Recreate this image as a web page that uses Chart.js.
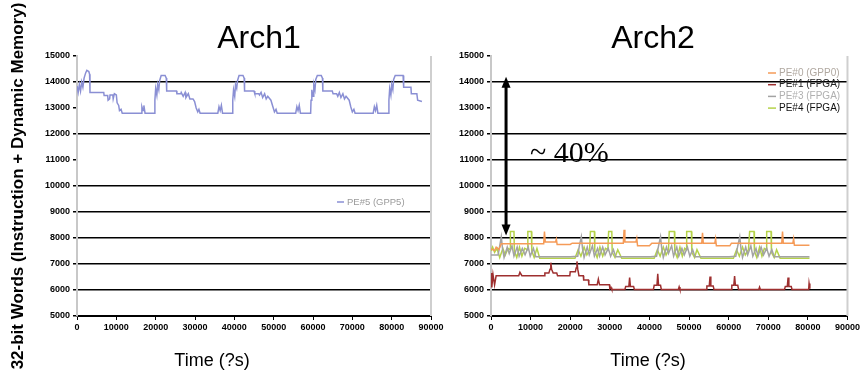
<!DOCTYPE html>
<html><head><meta charset="utf-8">
<script src="https://cdn.jsdelivr.net/npm/chart.js@4.4.0/dist/chart.umd.min.js"></script>
<style>
html,body{margin:0;padding:0;background:#fff;width:862px;height:376px;overflow:hidden;position:relative}
canvas{position:absolute;top:0}
#c1{left:0}
#c2{left:440px}
</style></head><body>
<canvas id="c1" width="460" height="376"></canvas>
<canvas id="c2" width="422" height="376"></canvas>
<script>
// ---------- tick labels ----------
const xTickValues = [0,10000,20000,30000,40000,50000,60000,70000,80000,90000];
const yTickValues = [5000,6000,7000,8000,9000,10000,11000,12000,13000,14000,15000];
const chartTitles = ['Arch1','Arch2'];
const xAxisTitle = 'Time (?s)';
const yAxisTitle = '32-bit Words (Instruction + Dynamic Memory)';
const annotationText = '~ 40%';

// ---------- Arch1 : PE#5 ----------
const arch1Label = 'PE#5 (GPP5)';
const arch1Time = [0,300,600,900,1200,1500,1800,2200,2500,3000,3200,3300,6800,6900,7800,7900,8300,8400,9100,9200,9500,10000,10200,10600,10800,11200,11500,16300,16500,16800,17000,17300,19700,
19800,20000,20300,20500,20800,21000,21400,22400,22700,22800,25300,25400,26400,26500,27000,27500,27700,28300,28700,29500,29900,30300,30700,31000,31300,35800,36100,36400,36700,37000,39500,
39600,39800,40100,40300,40600,40800,41200,42200,42500,42600,45000,45200,46200,46400,46800,47200,47700,48100,48500,49300,49800,50200,50600,50900,55600,55900,56200,56500,56800,59400,
59500,59700,60000,60200,60500,60700,61100,62100,62400,62500,64900,65100,66000,66300,66700,67100,67600,68000,68400,69200,69600,70000,70400,70700,75300,75600,75900,76200,76500,79200,
79300,79500,79800,80000,80300,80500,80900,82900,83000,83100,84900,85000,86400,86600,87700];
const arch1Words = [13850,13600,13900,13650,14000,13800,14150,14350,14450,14400,14300,13600,13600,13480,13480,13300,13350,13500,13500,13350,13550,13500,13200,13100,12900,12950,12800,12800,13050,12900,13100,12800,12800,
13300,13750,13500,13900,13700,14050,14250,14250,14150,13650,13650,13550,13550,13600,13450,13600,13400,13550,13350,13350,13250,13000,12850,12950,12800,12800,13050,12900,13100,12800,12800,
13300,13700,13450,13900,13750,14050,14250,14250,14150,13650,13650,13550,13550,13500,13600,13400,13550,13350,13450,13300,13050,12850,12950,12800,12800,13050,12900,13100,12800,12800,
13300,13700,13450,13900,13700,14100,14250,14250,14150,13650,13650,13550,13550,13450,13600,13400,13550,13350,13450,13300,13050,12850,12950,12800,12800,13050,12900,13100,12800,12800,
13300,13750,13500,13900,13700,14100,14250,14250,14100,13800,13800,13550,13550,13300,13250];

// ---------- Arch2 ----------
const arch2Labels = ['PE#0 (GPP0)','PE#1 (FPGA)','PE#3 (FPGA)','PE#4 (FPGA)'];
const pe0Time = [0,900,1300,2000,2600,13300,13500,13700,16300,16500,16700,20000,20500,33400,33600,33800,36600,36800,37000,40000,40600,53200,53400,53600,56500,56700,56900,60300,60700,73400,73600,73800,76200,76400,76600,80400];
const pe0Words = [7580,7520,7650,7560,7780,7780,8250,7850,7850,7960,7750,7750,7800,7800,8320,7850,7850,7980,7700,7700,7800,7800,8200,7800,7800,7970,7700,7700,7800,7800,8250,7800,7800,7970,7720,7720];

const pe1Time = [0,200,500,900,1300,7000,7300,7800,13400,13600,14600,14900,15100,15300,15700,16600,16800,19900,20000,21300,21500,21700,21900,22200,23300,23400,24600,24700,26800,27100,27400,29900,30000,30300,30500,33800,34000,34800,35000,35200,36000,36200,41000,41200,41900,42100,42300,42800,43000,47300,47500,47700,54300,54500,55100,55300,55500,56100,56300,60600,60800,61300,61500,61700,62300,62500,67600,67800,68000,74100,74300,74800,75000,75200,75800,76000,80200,80300,80500];
const pe1Words = [6650,6100,6600,6200,6550,6550,6680,6550,6550,6650,6650,6800,7050,6800,6650,6650,6550,6550,6700,6700,6850,7100,6800,6550,6550,6380,6380,6200,6200,6420,6200,6200,6050,6100,6020,6020,6130,6130,6480,6130,6130,6020,6020,6180,6180,6620,6180,6180,6020,6020,6120,6020,6020,6150,6150,6520,6150,6150,6020,6020,6180,6180,6540,6180,6180,6020,6020,6110,6020,6020,6130,6130,6480,6130,6130,6020,6020,6250,6050];

const pe3Time = [0,1800,2200,2600,2900,3300,4100,4600,5300,5800,6600,7100,7900,8600,9400,9900,10700,11300,20000,
21900,22300,22800,23100,23500,24300,24800,25600,26100,26900,27400,28200,28800,29600,30200,30900,31500,40200,
41800,42300,42800,43100,43500,44300,44800,45600,46100,46900,47400,48200,48800,49600,50200,50900,51500,60100,
61800,62300,62800,63100,63500,64300,64800,65600,66100,66900,67400,68200,68800,69600,70200,70900,71500,80400];
const pe3Words = [7350,7350,7700,8050,7600,7250,7650,7400,7700,7300,7650,7300,7600,7350,7650,7300,7600,7280,7280,
7300,7700,8050,7600,7250,7650,7350,7700,7300,7600,7300,7650,7350,7600,7300,7550,7280,7280,
7300,7700,8050,7600,7250,7650,7400,7700,7300,7650,7300,7600,7350,7650,7300,7550,7280,7280,
7300,7700,8050,7600,7250,7650,7350,7700,7300,7600,7300,7650,7350,7600,7300,7550,7280,7280];

const pe4Time = [0,400,900,1500,2200,3000,3600,4300,4800,4900,5800,5900,6500,7200,7800,8500,9200,9300,10200,10300,10900,11600,12300,20300,
21200,22000,22700,23500,24200,24900,25100,26100,26200,26800,27500,28200,28900,29500,29700,30500,30600,31300,32000,33000,40300,
41200,42000,42700,43500,44200,44800,45000,46300,46400,47000,47700,48300,48900,49300,49400,50600,50700,51400,52000,53000,60300,
61200,62000,62700,63500,64200,65000,65300,66400,66500,67100,67800,68400,69000,69500,69600,70700,70800,71500,72100,73000,80400];
const pe4Words = [7500,7650,7450,7600,7250,7600,7350,7600,7550,8250,8250,7500,7250,7650,7300,7600,7550,8250,8250,7500,7250,7600,7220,7220,
7220,7550,7300,7650,7350,7550,8250,8250,7500,7250,7650,7300,7600,7550,8250,8250,7450,7250,7550,7220,7220,
7220,7550,7300,7650,7350,7550,8250,8250,7500,7250,7650,7300,7600,7550,8250,8250,7450,7250,7550,7220,7220,
7220,7550,7300,7650,7350,7550,8250,8250,7500,7250,7650,7300,7600,7550,8250,8250,7450,7250,7550,7220,7220];

// annotation (double arrow) in data units
const arrowTime = 3800, arrowTop = 14200, arrowBottom = 8100;

// ---------- helpers ----------
const FONT = "'Liberation Sans', Arial, sans-serif";
const pts = (t, v) => t.map((x, i) => ({x: x, y: v[i]}));

const decor = {
  id: 'decor',
  afterDraw(chart, args, o) {
    const ctx = chart.ctx, a = chart.chartArea;
    ctx.save();
    ctx.strokeStyle = '#cfcfcf'; ctx.lineWidth = 2;
    ctx.beginPath(); ctx.moveTo(a.right, a.top); ctx.lineTo(a.right, a.bottom); ctx.stroke();
    (o.texts || []).forEach(t => {
      ctx.font = t.font; ctx.fillStyle = t.color || '#000';
      ctx.textAlign = t.align || 'center'; ctx.textBaseline = 'alphabetic';
      ctx.fillText(t.text, t.x, t.y);
    });
    const lg = o.legend;
    if (lg) {
      chart.data.datasets.forEach((ds, i) => {
        const y = lg.y + i * lg.row;
        ctx.strokeStyle = ds.borderColor; ctx.lineWidth = 1.5;
        ctx.beginPath(); ctx.moveTo(lg.x, y); ctx.lineTo(lg.x + lg.len, y); ctx.stroke();
        ctx.font = lg.font; ctx.fillStyle = lg.colors[i];
        ctx.textAlign = 'left'; ctx.textBaseline = 'middle';
        ctx.fillText(ds.label, lg.x + lg.len + 3, y);
      });
    }
    const ar = o.arrow;
    if (ar) {
      const x = chart.scales.x.getPixelForValue(ar.x);
      const y1 = chart.scales.y.getPixelForValue(ar.top);
      const y2 = chart.scales.y.getPixelForValue(ar.bottom);
      const hl = 11, hw = 4.5;
      ctx.strokeStyle = '#000'; ctx.fillStyle = '#000'; ctx.lineWidth = 3;
      ctx.beginPath(); ctx.moveTo(x, y1 + hl - 1); ctx.lineTo(x, y2 - hl + 1); ctx.stroke();
      ctx.beginPath(); ctx.moveTo(x, y1); ctx.lineTo(x - hw, y1 + hl); ctx.lineTo(x + hw, y1 + hl); ctx.closePath(); ctx.fill();
      ctx.beginPath(); ctx.moveTo(x, y2); ctx.lineTo(x - hw, y2 - hl); ctx.lineTo(x + hw, y2 - hl); ctx.closePath(); ctx.fill();
    }
    ctx.restore();
  }
};

function makeScales(gridVals, yWidth, withTitle) {
  return {
    x: {
      type: 'linear', min: 0, max: 90000,
      afterBuildTicks: s => { s.ticks = xTickValues.map(v => ({value: v})); },
      afterFit: s => { s.height = 60; },
      ticks: { callback: v => String(v), font: {family: FONT, size: 9, weight: 'bold'}, color: '#000', padding: 2, maxRotation: 0, autoSkip: false },
      grid: { drawOnChartArea: false, drawTicks: true, tickLength: 4, color: '#000', lineWidth: 1 },
      border: { color: '#000', width: 2 }
    },
    y: {
      type: 'linear', min: 5000, max: 15000,
      afterBuildTicks: s => { s.ticks = yTickValues.map(v => ({value: v})); },
      afterFit: s => { s.width = yWidth; },
      ticks: { callback: v => String(v), font: {family: FONT, size: 9, weight: 'bold'}, color: '#000', padding: 3, autoSkip: false },
      grid: {
        color: c => (c.tick && gridVals.includes(c.tick.value)) ? '#000' : 'rgba(0,0,0,0)',
        tickColor: '#000', tickLength: 4, lineWidth: 1.5
      },
      border: { color: '#c8c8c8', width: 2 },
      title: withTitle ? { display: true, text: yAxisTitle, color: '#000', font: {family: FONT, size: 17, weight: 'bold'}, padding: {top: 8, bottom: 0} } : { display: false }
    }
  };
}

const common = {
  responsive: false, animation: false, devicePixelRatio: 1,
  elements: { point: { radius: 0 }, line: { tension: 0 } },
  events: []
};

new Chart(document.getElementById('c1'), {
  type: 'line',
  data: { datasets: [{ label: arch1Label, data: pts(arch1Time, arch1Words), borderColor: '#8a8fd4', borderWidth: 1.5, fill: false }] },
  options: Object.assign({}, common, {
    layout: { autoPadding: false, padding: { left: 0, top: 56, right: 29, bottom: 0 } },
    scales: makeScales([6000,7000,8000,9000,10000,12000,14000], 77, true),
    plugins: {
      legend: { display: false }, tooltip: { enabled: false },
      decor: {
        texts: [
          { text: chartTitles[0], x: 259, y: 48, font: "32px " + FONT },
          { text: xAxisTitle, x: 212, y: 366, font: "18px " + FONT }
        ],
        legend: { x: 337, y: 202, row: 12, len: 7, font: "9.5px " + FONT, colors: ['#9a9a9a'] }
      }
    }
  }),
  plugins: [decor]
});

new Chart(document.getElementById('c2'), {
  type: 'line',
  data: { datasets: [
    { label: arch2Labels[0], data: pts(pe0Time, pe0Words), borderColor: '#f59b58', borderWidth: 1.5, fill: false },
    { label: arch2Labels[1], data: pts(pe1Time, pe1Words), borderColor: '#9e2f2f', borderWidth: 1.5, fill: false },
    { label: arch2Labels[2], data: pts(pe3Time, pe3Words), borderColor: '#a3a3a3', borderWidth: 1.5, fill: false },
    { label: arch2Labels[3], data: pts(pe4Time, pe4Words), borderColor: '#b5d24a', borderWidth: 1.5, fill: false }
  ] },
  options: Object.assign({}, common, {
    layout: { autoPadding: false, padding: { left: 0, top: 56, right: 14, bottom: 0 } },
    scales: makeScales([6000,7000,8000,9000,10000,11000,12000,14000], 51, false),
    plugins: {
      legend: { display: false }, tooltip: { enabled: false },
      decor: {
        texts: [
          { text: chartTitles[1], x: 213, y: 48, font: "32px " + FONT },
          { text: xAxisTitle, x: 208, y: 366, font: "18px " + FONT },
          { text: annotationText, x: 90, y: 162, font: "30px 'Liberation Serif', 'Times New Roman', serif", align: 'left' }
        ],
        legend: { x: 328, y: 73, row: 11.7, len: 8, font: "10px " + FONT, colors: ['#b0a8a0','#222','#b0b0b0','#111'] },
        arrow: { x: arrowTime, top: arrowTop, bottom: arrowBottom }
      }
    }
  }),
  plugins: [decor]
});
</script>
</body></html>
